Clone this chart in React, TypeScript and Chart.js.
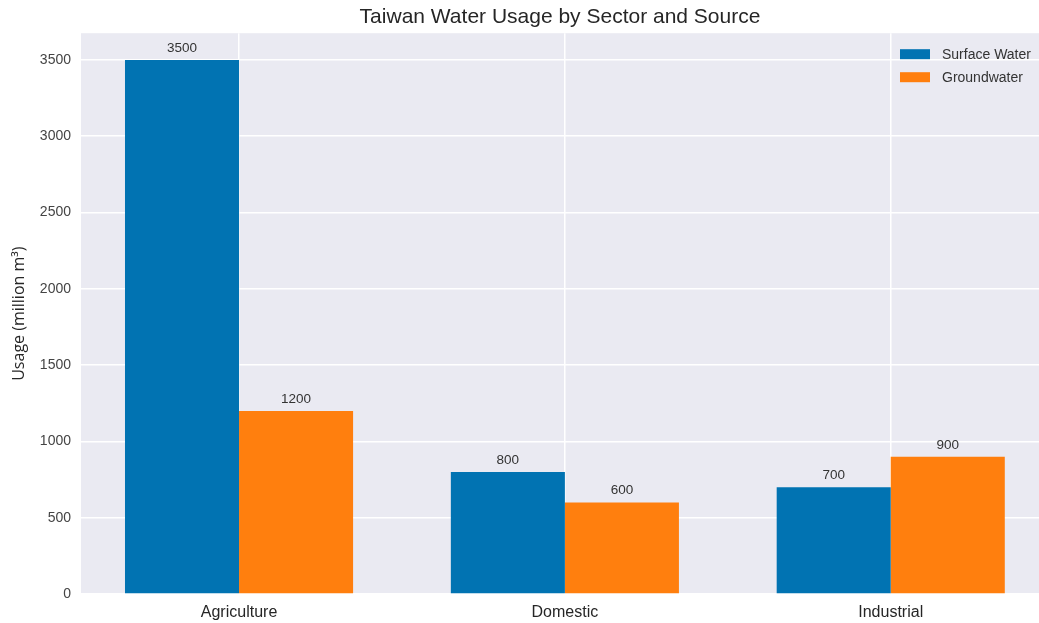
import React, { useEffect, useRef } from 'react';
import { Chart, registerables } from 'chart.js';

Chart.register(...registerables);

const CATEGORIES = ['Agriculture', 'Domestic', 'Industrial'];
const SERIES_NAMES = ['Surface Water', 'Groundwater'];
const SURFACE_WATER = [3500, 800, 700];
const GROUNDWATER = [1200, 600, 900];
const COLORS = ['#0173B2', '#FF7F0E'];
const Y_TICKS = [0, 500, 1000, 1500, 2000, 2500, 3000, 3500];
const Y_MAX = 3675;
const X_MIN = -0.485;
const X_MAX = 2.455;

const TITLE = 'Taiwan Water Usage by Sector and Source';
const Y_TITLE = 'Usage (million m³)';
const FONT = "'Liberation Sans', Arial, sans-serif";
const TEXT_COLOR = '#262626';
const PLOT_BG = '#EAEAF2';

const decorPlugin = {
  id: 'decor',
  beforeDraw(chart: any) {
    const { ctx, chartArea } = chart;
    ctx.save();
    ctx.fillStyle = PLOT_BG;
    ctx.fillRect(chartArea.left, chartArea.top, chartArea.right - chartArea.left, chartArea.bottom - chartArea.top);
    ctx.restore();
  },
  afterDatasetsDraw(chart: any) {
    const { ctx } = chart;
    ctx.save();
    ctx.font = `13.5px ${FONT}`;
    ctx.fillStyle = '#333333';
    ctx.textAlign = 'center';
    ctx.textBaseline = 'alphabetic';
    chart.data.datasets.forEach((ds: any, di: number) => {
      const meta = chart.getDatasetMeta(di);
      meta.data.forEach((el: any, i: number) => {
        const v = ds.data[i].y;
        ctx.fillText(String(v), el.x, el.y - 8);
      });
    });
    ctx.restore();
  },
  afterDraw(chart: any) {
    const { ctx, chartArea } = chart;
    ctx.save();
    ctx.font = `14px ${FONT}`;
    ctx.textBaseline = 'middle';
    ctx.textAlign = 'left';
    const boxLeft = chartArea.right - 139;
    SERIES_NAMES.forEach((name, i) => {
      const top = chartArea.top + 16 + i * 23;
      ctx.fillStyle = COLORS[i];
      ctx.fillRect(boxLeft, top, 30, 10);
      ctx.fillStyle = '#333333';
      ctx.fillText(name, boxLeft + 42, top + 5.5);
    });
    ctx.restore();
  },
};

export default function App() {
  const canvasRef = useRef<HTMLCanvasElement | null>(null);

  useEffect(() => {
    if (!canvasRef.current) return;
    const seriesValues = [SURFACE_WATER, GROUNDWATER];
    const chart = new Chart(canvasRef.current, {
      type: 'bar',
      data: {
        datasets: SERIES_NAMES.map((name, si) => ({
          label: name,
          data: seriesValues[si].map((v, i) => ({ x: i, y: v })),
          backgroundColor: COLORS[si],
          borderWidth: 0,
          categoryPercentage: 0.7,
          barPercentage: 1.0,
        })),
      },
      options: {
        animation: false,
        responsive: true,
        maintainAspectRatio: false,
        layout: { padding: 0 },
        plugins: {
          legend: { display: false },
          tooltip: { enabled: false },
          title: {
            display: true,
            text: TITLE,
            color: TEXT_COLOR,
            font: { family: FONT, size: 21, weight: 'normal' },
            padding: { top: 5, bottom: 3 },
            fullSize: false,
          },
        },
        scales: {
          x: {
            type: 'linear',
            min: X_MIN,
            max: X_MAX,
            offset: false,
            afterBuildTicks: (s: any) => {
              s.ticks = CATEGORIES.map((_, i) => ({ value: i }));
            },
            afterFit: (s: any) => {
              s.height = 29;
            },
            ticks: {
              autoSkip: false,
              maxRotation: 0,
              padding: 9,
              color: TEXT_COLOR,
              font: { family: FONT, size: 16 },
              callback: (v: any) => CATEGORIES[Number(v)] ?? '',
            },
            grid: { color: '#ffffff', lineWidth: 1.5, drawTicks: false, offset: false },
            border: { display: false },
          },
          y: {
            min: 0,
            max: Y_MAX,
            afterBuildTicks: (s: any) => {
              s.ticks = Y_TICKS.map((v) => ({ value: v }));
            },
            afterFit: (s: any) => {
              s.width = 81;
            },
            ticks: {
              padding: 10,
              color: '#444444',
              font: { family: FONT, size: 14 },
              callback: (v: any) => String(v),
            },
            grid: { color: '#ffffff', lineWidth: 1.5, drawTicks: false },
            border: { display: false },
            title: {
              display: true,
              text: Y_TITLE,
              color: TEXT_COLOR,
              font: { family: "'Open Sans', sans-serif", size: 16 },
              padding: { top: 10, bottom: 0 },
            },
          },
        },
      } as any,
      plugins: [decorPlugin],
    });
    return () => chart.destroy();
  }, []);

  return (
    <div style={{ position: 'fixed', left: 0, top: 0, width: 1039, height: 623, background: '#ffffff' }}>
      <canvas ref={canvasRef} />
    </div>
  );
}
